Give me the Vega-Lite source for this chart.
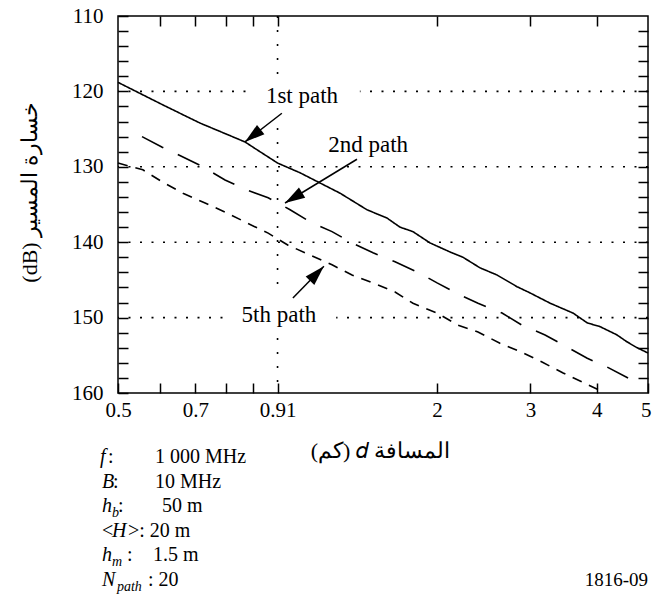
{
  "$schema": "https://vega.github.io/schema/vega-lite/v6.json",
  "width": 530,
  "height": 377,
  "autosize": "none",
  "padding": {"left": 118, "top": 16, "right": 4, "bottom": 222},
  "background": "white",
  "config": {
    "view": {"stroke": "black", "strokeWidth": 1.5},
    "axis": {
      "domain": false, "grid": false, "ticks": true,
      "tickColor": "black", "tickWidth": 1.5, "tickSize": -10,
      "labelFont": "Liberation Serif", "labelFontSize": 21, "labelColor": "black",
      "titleFont": "Liberation Serif", "titleFontSize": 22, "titleFontWeight": "normal", "titleColor": "black",
      "labelOverlap": false, "labelFlush": false
    }
  },
  "datasets": {
    "gridh": [{"dB": 120}, {"dB": 130}, {"dB": 140}, {"dB": 150}],
    "gridv": [{"d": 1}],
    "boxes": [
      {"x1": 0.874, "x2": 1.43, "y1": 119.0, "y2": 124.5},
      {"x1": 0.795, "x2": 1.29, "y1": 146.4, "y2": 152.0}
    ],
    "lines": [
      {"path": "1st", "d": 0.5, "dB": 118.8}, {"path": "1st", "d": 0.608, "dB": 121.8}, {"path": "1st", "d": 0.714, "dB": 124.2},
      {"path": "1st", "d": 0.868, "dB": 126.7}, {"path": "1st", "d": 0.899, "dB": 127.4}, {"path": "1st", "d": 1.0, "dB": 129.5},
      {"path": "1st", "d": 1.103, "dB": 130.8}, {"path": "1st", "d": 1.312, "dB": 133.5}, {"path": "1st", "d": 1.475, "dB": 135.7},
      {"path": "1st", "d": 1.609, "dB": 136.8}, {"path": "1st", "d": 1.702, "dB": 138.0}, {"path": "1st", "d": 1.801, "dB": 138.6},
      {"path": "1st", "d": 1.94, "dB": 140.1}, {"path": "1st", "d": 2.116, "dB": 141.3}, {"path": "1st", "d": 2.238, "dB": 142.0},
      {"path": "1st", "d": 2.41, "dB": 143.4}, {"path": "1st", "d": 2.595, "dB": 144.35}, {"path": "1st", "d": 2.83, "dB": 145.9},
      {"path": "1st", "d": 2.99, "dB": 146.7}, {"path": "1st", "d": 3.27, "dB": 148.1}, {"path": "1st", "d": 3.61, "dB": 149.4},
      {"path": "1st", "d": 3.84, "dB": 150.7}, {"path": "1st", "d": 4.06, "dB": 151.2}, {"path": "1st", "d": 4.37, "dB": 152.3},
      {"path": "1st", "d": 4.56, "dB": 153.2}, {"path": "1st", "d": 4.77, "dB": 154.0}, {"path": "1st", "d": 5.0, "dB": 154.7},
      {"path": "2nd", "d": 0.555, "dB": 126.0}, {"path": "2nd", "d": 0.606, "dB": 127.4}, {"path": "2nd", "d": 0.663, "dB": 128.7},
      {"path": "2nd", "d": 0.714, "dB": 129.8}, {"path": "2nd", "d": 0.796, "dB": 131.75}, {"path": "2nd", "d": 0.876, "dB": 133.1},
      {"path": "2nd", "d": 0.96, "dB": 134.1}, {"path": "2nd", "d": 1.056, "dB": 135.7}, {"path": "2nd", "d": 1.152, "dB": 137.3},
      {"path": "2nd", "d": 1.267, "dB": 138.6}, {"path": "2nd", "d": 1.382, "dB": 140.1}, {"path": "2nd", "d": 1.514, "dB": 141.4},
      {"path": "2nd", "d": 1.666, "dB": 142.6}, {"path": "2nd", "d": 1.841, "dB": 144.0}, {"path": "2nd", "d": 2.0, "dB": 145.4},
      {"path": "2nd", "d": 2.21, "dB": 147.0}, {"path": "2nd", "d": 2.389, "dB": 148.1}, {"path": "2nd", "d": 2.652, "dB": 149.4},
      {"path": "2nd", "d": 2.892, "dB": 151.0}, {"path": "2nd", "d": 3.197, "dB": 152.3}, {"path": "2nd", "d": 3.458, "dB": 153.6},
      {"path": "2nd", "d": 3.84, "dB": 155.4}, {"path": "2nd", "d": 4.185, "dB": 156.55}, {"path": "2nd", "d": 4.585, "dB": 158.0},
      {"path": "5th", "d": 0.5, "dB": 129.5}, {"path": "5th", "d": 0.557, "dB": 130.4}, {"path": "5th", "d": 0.606, "dB": 132.0},
      {"path": "5th", "d": 0.663, "dB": 133.5}, {"path": "5th", "d": 0.73, "dB": 134.8}, {"path": "5th", "d": 0.796, "dB": 136.0},
      {"path": "5th", "d": 0.876, "dB": 137.45}, {"path": "5th", "d": 0.96, "dB": 138.8}, {"path": "5th", "d": 1.047, "dB": 140.4},
      {"path": "5th", "d": 1.152, "dB": 141.7}, {"path": "5th", "d": 1.267, "dB": 143.0}, {"path": "5th", "d": 1.382, "dB": 144.35},
      {"path": "5th", "d": 1.514, "dB": 145.4}, {"path": "5th", "d": 1.666, "dB": 146.6}, {"path": "5th", "d": 1.801, "dB": 148.1},
      {"path": "5th", "d": 2.0, "dB": 149.4}, {"path": "5th", "d": 2.19, "dB": 151.0}, {"path": "5th", "d": 2.389, "dB": 151.9},
      {"path": "5th", "d": 2.628, "dB": 153.4}, {"path": "5th", "d": 2.892, "dB": 154.6}, {"path": "5th", "d": 3.155, "dB": 155.9},
      {"path": "5th", "d": 3.458, "dB": 157.35}, {"path": "5th", "d": 3.8, "dB": 158.7}, {"path": "5th", "d": 4.15, "dB": 160.0}
    ],
    "labels": [
      {"t": "1st path", "d": 1.112, "dB": 121.5},
      {"t": "2nd path", "d": 1.482, "dB": 128.0},
      {"t": "5th path", "d": 1.006, "dB": 150.6}
    ],
    "arrows": [
      {"path": "1st", "x1": 1.019, "y1": 122.9, "x2": 0.868, "y2": 126.7},
      {"path": "2nd", "x1": 1.412, "y1": 129.0, "x2": 1.033, "y2": 134.8},
      {"path": "5th", "x1": 1.069, "y1": 147.4, "x2": 1.223, "y2": 143.2}
    ],
    "axisdummy": [{"d": 1, "dB": 130}],
    "ital": [
      {"t": "f", "d": 0.4624, "dB": 169.28},
      {"t": "B", "d": 0.4664, "dB": 172.6},
      {"t": "h", "d": 0.4664, "dB": 175.78},
      {"t": "H", "d": 0.4872, "dB": 179.1},
      {"t": "h", "d": 0.4664, "dB": 182.28},
      {"t": "N", "d": 0.4664, "dB": 185.6}
    ],
    "sub": [
      {"t": "b", "d": 0.4872, "dB": 176.48},
      {"t": "m", "d": 0.4872, "dB": 182.98},
      {"t": "path", "d": 0.4978, "dB": 186.3}
    ],
    "reg": [
      {"t": ":", "d": 0.4788, "dB": 169.28},
      {"t": "1 000 MHz", "d": 0.5871, "dB": 169.28},
      {"t": ":", "d": 0.4892, "dB": 172.6},
      {"t": "10 MHz", "d": 0.5871, "dB": 172.6},
      {"t": ":", "d": 0.5, "dB": 175.78},
      {"t": "50 m", "d": 0.6053, "dB": 175.78},
      {"t": "<", "d": 0.4664, "dB": 179.1},
      {"t": ">: 20 m", "d": 0.5222, "dB": 179.1},
      {"t": ":", "d": 0.5199, "dB": 182.28},
      {"t": "1.5 m", "d": 0.5821, "dB": 182.28},
      {"t": ": 20", "d": 0.5695, "dB": 185.6}
    ],
    "code": [{"t": "1816-09", "d": 5, "dB": 185.6}]
  },
  "layer": [
    {
      "data": {"name": "gridh"},
      "mark": {"type": "rule", "strokeDash": [2, 9.5], "strokeWidth": 1.6, "color": "black"},
      "encoding": {
        "y": {"field": "dB", "type": "quantitative", "scale": {"domain": [110, 160], "reverse": true, "nice": false, "zero": false}, "axis": null}
      }
    },
    {
      "data": {"name": "gridv"},
      "mark": {"type": "rule", "strokeDash": [2, 12], "strokeWidth": 1.6, "color": "black"},
      "encoding": {
        "x": {"field": "d", "type": "quantitative", "scale": {"type": "log", "domain": [0.5, 5], "nice": false}, "axis": null}
      }
    },
    {
      "data": {"name": "boxes"},
      "mark": {"type": "rect", "fill": "white"},
      "encoding": {
        "x": {"field": "x1", "type": "quantitative", "scale": {"type": "log", "domain": [0.5, 5], "nice": false}, "axis": null},
        "x2": {"field": "x2"},
        "y": {"field": "y1", "type": "quantitative", "scale": {"domain": [110, 160], "reverse": true, "nice": false, "zero": false}, "axis": null},
        "y2": {"field": "y2"}
      }
    },
    {
      "data": {"name": "lines"},
      "mark": {"type": "line", "color": "black", "strokeWidth": 1.6},
      "encoding": {
        "x": {
          "field": "d", "type": "quantitative",
          "scale": {"type": "log", "domain": [0.5, 5], "nice": false},
          "axis": {
            "orient": "bottom",
            "values": [0.5, 0.6, 0.7, 0.8, 0.9, 1, 2, 3, 4, 5],
            "labelExpr": "datum.value == 0.5 ? '0.5' : datum.value == 0.7 ? '0.7' : datum.value == 1 ? '0.91' : datum.value >= 2 ? '' + datum.value : ''",
            "labelPadding": 16,
            "labelAlign": {"condition": {"test": "datum.value == 5", "value": "right"}, "value": "center"},
            "labelOffset": {"condition": {"test": "datum.value == 5", "value": 3}, "value": 0},
            "title": "(كم) 𝑑 المسافة",
            "titleX": 262, "titleY": 64, "titleAlign": "center", "titleBaseline": "alphabetic"
          }
        },
        "y": {
          "field": "dB", "type": "quantitative",
          "scale": {"domain": [110, 160], "reverse": true, "nice": false, "zero": false},
          "axis": {
            "orient": "left",
            "values": [110, 112, 114, 116, 118, 120, 122, 124, 126, 128, 130, 132, 134, 136, 138, 140, 142, 144, 146, 148, 150, 152, 154, 156, 158, 160],
            "labelExpr": "datum.value % 10 == 0 ? '' + datum.value : ''",
            "labelPadding": 25,
            "labelBaseline": "middle",
            "title": "(dB) خسارة المسير",
            "titleAngle": 270, "titleX": -89, "titleY": 176, "titleAlign": "center", "titleBaseline": "middle"
          }
        },
        "strokeDash": {
          "field": "path", "type": "nominal",
          "scale": {"domain": ["1st", "2nd", "5th"], "range": [[1, 0], [24, 16], [10, 8]]},
          "legend": null
        }
      }
    },
    {
      "data": {"name": "labels"},
      "mark": {"type": "text", "font": "Liberation Serif", "fontSize": 23, "align": "center", "baseline": "alphabetic", "color": "black"},
      "encoding": {
        "x": {"field": "d", "type": "quantitative", "scale": {"type": "log", "domain": [0.5, 5], "nice": false}, "axis": null},
        "y": {"field": "dB", "type": "quantitative", "scale": {"domain": [110, 160], "reverse": true, "nice": false, "zero": false}, "axis": null},
        "text": {"field": "t"}
      }
    },
    {
      "data": {"name": "arrows"},
      "mark": {"type": "rule", "color": "black", "strokeWidth": 1.5},
      "encoding": {
        "x": {"field": "x1", "type": "quantitative", "scale": {"type": "log", "domain": [0.5, 5], "nice": false}, "axis": null},
        "x2": {"field": "x2"},
        "y": {"field": "y1", "type": "quantitative", "scale": {"domain": [110, 160], "reverse": true, "nice": false, "zero": false}, "axis": null},
        "y2": {"field": "y2"}
      }
    },
    {
      "data": {"name": "arrows"},
      "transform": [{"filter": "datum.path == '1st'"}],
      "mark": {"type": "point", "shape": "M0,0L-0.6,2L0.6,2Z", "size": 400, "angle": 232, "filled": true, "color": "black", "opacity": 1},
      "encoding": {
        "x": {"field": "x2", "type": "quantitative", "scale": {"type": "log", "domain": [0.5, 5], "nice": false}, "axis": null},
        "y": {"field": "y2", "type": "quantitative", "scale": {"domain": [110, 160], "reverse": true, "nice": false, "zero": false}, "axis": null}
      }
    },
    {
      "data": {"name": "arrows"},
      "transform": [{"filter": "datum.path == '2nd'"}],
      "mark": {"type": "point", "shape": "M0,0L-0.6,2L0.6,2Z", "size": 400, "angle": 238.6, "filled": true, "color": "black", "opacity": 1},
      "encoding": {
        "x": {"field": "x2", "type": "quantitative", "scale": {"type": "log", "domain": [0.5, 5], "nice": false}, "axis": null},
        "y": {"field": "y2", "type": "quantitative", "scale": {"domain": [110, 160], "reverse": true, "nice": false, "zero": false}, "axis": null}
      }
    },
    {
      "data": {"name": "arrows"},
      "transform": [{"filter": "datum.path == '5th'"}],
      "mark": {"type": "point", "shape": "M0,0L-0.6,2L0.6,2Z", "size": 400, "angle": 44, "filled": true, "color": "black", "opacity": 1},
      "encoding": {
        "x": {"field": "x2", "type": "quantitative", "scale": {"type": "log", "domain": [0.5, 5], "nice": false}, "axis": null},
        "y": {"field": "y2", "type": "quantitative", "scale": {"domain": [110, 160], "reverse": true, "nice": false, "zero": false}, "axis": null}
      }
    },
    {
      "data": {"name": "axisdummy"},
      "mark": {"type": "point", "opacity": 0},
      "encoding": {
        "x": {
          "field": "d", "type": "quantitative", "scale": {"type": "log", "domain": [0.5, 5], "nice": false},
          "axis": {"orient": "top", "values": [0.6, 0.7, 0.8, 0.9, 1, 2, 3, 4], "labels": false, "title": null}
        },
        "y": {
          "field": "dB", "type": "quantitative", "scale": {"domain": [110, 160], "reverse": true, "nice": false, "zero": false},
          "axis": {"orient": "right", "values": [112, 114, 116, 118, 120, 122, 124, 126, 128, 130, 132, 134, 136, 138, 140, 142, 144, 146, 148, 150, 152, 154, 156, 158], "labels": false, "title": null}
        }
      }
    },
    {
      "data": {"name": "ital"},
      "mark": {"type": "text", "font": "Liberation Serif", "fontSize": 20, "fontStyle": "italic", "align": "left", "baseline": "alphabetic", "color": "black"},
      "encoding": {
        "x": {"field": "d", "type": "quantitative", "scale": {"type": "log", "domain": [0.5, 5], "nice": false}, "axis": null},
        "y": {"field": "dB", "type": "quantitative", "scale": {"domain": [110, 160], "reverse": true, "nice": false, "zero": false}, "axis": null},
        "text": {"field": "t"}
      }
    },
    {
      "data": {"name": "sub"},
      "mark": {"type": "text", "font": "Liberation Serif", "fontSize": 14, "fontStyle": "italic", "align": "left", "baseline": "alphabetic", "color": "black"},
      "encoding": {
        "x": {"field": "d", "type": "quantitative", "scale": {"type": "log", "domain": [0.5, 5], "nice": false}, "axis": null},
        "y": {"field": "dB", "type": "quantitative", "scale": {"domain": [110, 160], "reverse": true, "nice": false, "zero": false}, "axis": null},
        "text": {"field": "t"}
      }
    },
    {
      "data": {"name": "reg"},
      "mark": {"type": "text", "font": "Liberation Serif", "fontSize": 20, "align": "left", "baseline": "alphabetic", "color": "black"},
      "encoding": {
        "x": {"field": "d", "type": "quantitative", "scale": {"type": "log", "domain": [0.5, 5], "nice": false}, "axis": null},
        "y": {"field": "dB", "type": "quantitative", "scale": {"domain": [110, 160], "reverse": true, "nice": false, "zero": false}, "axis": null},
        "text": {"field": "t"}
      }
    },
    {
      "data": {"name": "code"},
      "mark": {"type": "text", "font": "Liberation Serif", "fontSize": 19, "align": "right", "baseline": "alphabetic", "color": "black"},
      "encoding": {
        "x": {"field": "d", "type": "quantitative", "scale": {"type": "log", "domain": [0.5, 5], "nice": false}, "axis": null},
        "y": {"field": "dB", "type": "quantitative", "scale": {"domain": [110, 160], "reverse": true, "nice": false, "zero": false}, "axis": null},
        "text": {"field": "t"}
      }
    }
  ],
  "resolve": {"axis": {"x": "independent", "y": "independent"}}
}
